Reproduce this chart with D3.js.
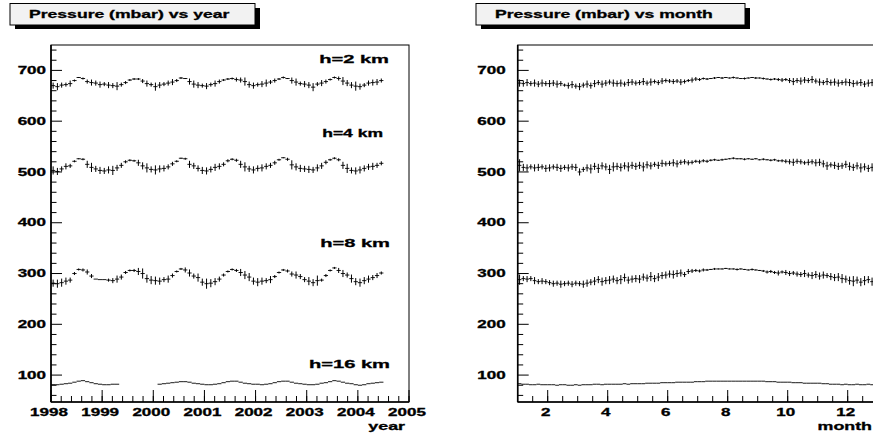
<!DOCTYPE html>
<html>
<head>
<meta charset="utf-8">
<script src="https://cdn.jsdelivr.net/npm/d3@7"></script>
<style>
  body { margin: 0; background: #fff; }
  svg { display: block; }
  text { font-family: "Liberation Sans", Arial, sans-serif; font-weight: bold; fill: #000; stroke: #000; stroke-width: 0.3; }
</style>
</head>
<body>
<div id="chart"></div>
<script>
"use strict";

// ---- data ----
var YEARS = [1998, 1999, 2000, 2001, 2002, 2003, 2004, 2005];
var MONTH_TICKS = [2, 4, 6, 8, 10, 12];
var PRESSURE_TICKS = [100, 200, 300, 400, 500, 600, 700];
var LEVELS = ["h=2 km", "h=4 km", "h=8 km", "h=16 km"];

// monthly means, Jan 1998 .. Jun 2004
var year2km = [670,668,671,672,674,680,686,684,678,676,675,672, 673,671,670,669,672,676,681,683,683,679,674,672,
  668,671,673,675,677,680,685,684,678,673,671,670, 669,672,674,678,681,683,684,682,681,678,672,670,
  672,673,675,677,680,683,686,684,680,677,674,673, 671,667,673,675,678,682,686,684,679,675,671,669,
  668,671,675,676,677,680];
var year2kmErr = [6,7,5,4,6,2,1,2,4,6,5,6, 4,6,5,8,4,3,2,2,2,4,6,4, 8,6,4,5,6,3,2,1,6,7,6,4,
  6,4,6,4,2,2,2,4,5,8,6,6, 4,6,7,4,4,2,2,1,6,7,4,6, 6,8,4,6,4,2,2,4,8,6,6,9, 6,4,5,6,6,4];

var year4km = [503,501,506,511,512,521,526,525,515,509,506,503, 502,504,503,508,513,520,523,522,518,512,508,505,
  504,506,507,510,516,521,527,526,515,512,507,503, 502,505,509,511,515,522,525,523,515,510,506,504,
  507,508,511,513,518,524,528,525,514,510,507,506, 505,504,508,512,519,524,527,524,513,507,503,502,
  504,507,510,511,513,517];
var year4kmErr = [8,7,5,6,4,2,1,2,7,9,6,7, 6,7,9,6,5,3,2,2,6,7,9,6, 9,7,6,5,4,2,1,2,7,6,6,7,
  7,6,7,6,4,3,2,3,7,9,6,7, 6,7,6,5,4,2,1,3,9,7,7,6, 7,6,7,6,4,2,2,3,7,9,6,7, 7,6,6,7,5,4];

var year8km = [281,280,282,285,287,300,308,307,303,295,289,288, 288,287,286,289,293,302,306,306,304,300,290,287,
  286,285,288,289,296,304,309,307,301,295,292,283, 280,281,284,289,297,304,308,306,302,297,293,285,
  283,285,286,288,294,302,307,305,299,297,294,288, 285,282,286,287,296,306,311,306,300,297,290,284,
  282,286,289,292,296,301];
var year8kmErr = [7,8,8,7,5,3,2,3,5,4,0,0, 0,3,5,7,5,3,2,3,7,10,8,8, 8,7,5,7,4,2,2,5,7,5,8,7,
  10,8,7,5,3,2,2,3,7,8,8,7, 8,7,5,7,3,2,2,3,5,7,5,5, 8,7,10,3,3,2,2,5,7,5,8,7, 8,7,7,5,5,3];

var year16km = [81,81,82,83,84,86,88,89,87,85,83,82, 81,81,82,82,null,null,null,null,null,null,null,null,
  null,82,83,84,85,86,87,87,86,84,83,82, 81,81,82,83,85,87,88,88,86,84,83,82,
  82,81,82,83,85,87,88,88,86,84,83,82, 81,81,82,84,85,87,89,88,86,84,83,81,
  80,81,83,84,85,86];

// folded by month, 8 bins per month
var month2km = [675,674,676,674,675,673,675,674, 674,675,673,674,671,670,672,669, 668,671,673,670,674,676,673,675,
  677,675,674,675,673,676,677,675, 676,678,675,677,678,676,679,680, 679,678,679,677,678,680,681,683,
  682,684,683,684,685,686,685,686, 685,686,685,684,684,685,686,685, 685,684,683,682,683,682,681,682,
  680,678,680,679,681,680,682,679, 677,676,678,676,677,675,676,677, 676,674,675,676,673,675,676,674];
var month2kmErr = [7,6,7,5,7,6,7,5, 7,6,7,5,3,6,7,5, 7,5,7,6,7,5,7,6, 5,7,6,7,5,7,6,5, 5,7,5,7,4,5,6,4,
  4,5,4,6,4,3,5,4, 3,2,2,1,2,1,2,1, 1,2,1,1,2,1,1,2, 1,2,1,2,2,3,4,3, 5,7,5,7,6,5,7,5,
  7,5,7,6,7,7,5,7, 7,7,5,7,6,7,7,8];

var month4km = [513,509,508,510,508,509,510,507, 508,510,509,507,509,508,510,509, 500,505,508,506,511,507,512,510,
  505,510,511,509,512,510,513,511, 513,510,514,512,515,513,517,516, 517,518,516,519,520,518,519,521,
  520,522,521,523,524,523,524,525, 526,527,526,526,525,526,525,526, 524,525,524,523,524,522,522,521,
  520,519,521,520,518,519,520,518, 519,516,512,514,513,511,512,515, 511,509,512,508,510,507,509,511];
var month4kmErr = [12,7,7,5,7,7,5,7, 7,5,7,7,5,7,6,7, 7,5,7,9,7,9,7,7, 9,9,7,8,7,9,7,7, 7,9,7,7,5,7,7,5,
  5,7,7,5,5,5,4,3, 4,3,3,2,2,1,2,1, 1,2,1,1,2,1,1,1, 1,2,1,2,2,2,3,4, 5,7,5,5,4,6,5,7,
  7,7,8,5,7,7,6,7, 8,7,7,9,7,7,8,9];

var month8km = [288,290,289,290,286,284,285,284, 282,280,281,279,280,281,279,281, 280,279,281,283,285,288,284,286,
  287,289,286,288,292,287,289,290, 289,293,291,294,290,293,296,297, 299,298,300,301,298,304,305,306,
  305,307,307,308,309,309,309,310, 309,309,308,309,308,307,308,307, 306,305,303,304,302,301,303,302,
  300,301,299,298,300,297,296,298, 295,297,296,294,292,293,290,289, 286,285,287,283,286,288,284,288];
var month8kmErr = [10,5,6,5,7,5,6,5, 5,6,5,7,5,5,6,5, 5,7,7,6,8,7,8,7, 8,7,7,9,8,7,7,7, 8,7,7,9,7,8,7,7,
  7,8,7,7,5,5,4,3, 3,3,2,1,2,1,1,1, 1,1,2,1,1,1,2,1, 1,2,3,3,3,5,3,5, 5,4,5,5,7,5,7,7,
  7,7,5,7,7,8,9,7, 8,10,7,8,9,7,8,7];

var month16km = [83,82,82,81,81,82,81,81, 81,81,80,81,81,80,80,81, 80,81,81,81,82,82,81,82,
  82,82,82,82,83,82,83,83, 83,83,84,84,84,84,85,85, 85,85,86,86,86,86,86,87,
  87,87,88,88,88,88,88,88, 88,88,88,88,88,88,88,88, 88,88,87,87,87,86,86,86,
  86,85,85,85,84,84,84,84, 84,83,83,82,82,82,81,82, 81,81,82,81,81,82,81,81];

// ---- layout ----
var W = 873, H = 439;
var SX = 1.7;   // the reference fonts are stretched sideways

var svg = d3.select("#chart").append("svg")
    .attr("width", W).attr("height", H);

svg.append("rect").attr("width", W).attr("height", H).attr("fill", "#fff");

function label(g, x, y, txt, size, anchor, sx) {
  return g.append("text")
    .attr("transform", "translate(" + x + "," + y + ") scale(" + (sx || SX) + ",1)")
    .attr("font-size", size)
    .attr("text-anchor", anchor || "start")
    .text(txt);
}

function titleBox(x, w, txt) {
  var g = svg.append("g");
  g.append("rect").attr("x", x + 5).attr("y", 8).attr("width", w).attr("height", 21).attr("fill", "#000");
  g.append("rect").attr("x", x).attr("y", 3.5).attr("width", w).attr("height", 21.5)
    .attr("fill", "#f2f2f2").attr("stroke", "#000").attr("stroke-width", 1);
  label(g, x + 19, 17.5, txt, 11, "start", 1.6);
}

// one TGraphErrors-like series: horizontal bar over the bin, vertical bar for the error
function drawSeries(g, x, y, xs, vals, errs, halfBin) {
  var pts = vals.map(function(v, i) { return { t: xs[i], v: v, e: errs ? errs[i] : 0 }; })
    .filter(function(d) { return d.v !== null; });

  g.selectAll(null).data(pts).enter().append("line")
    .attr("x1", function(d) { return x(d.t - halfBin); })
    .attr("x2", function(d) { return x(d.t + halfBin); })
    .attr("y1", function(d) { return y(d.v); })
    .attr("y2", function(d) { return y(d.v); })
    .attr("stroke", "#000").attr("stroke-width", 0.9);

  g.selectAll(null).data(pts.filter(function(d) { return d.e > 0; })).enter().append("line")
    .attr("x1", function(d) { return x(d.t); })
    .attr("x2", function(d) { return x(d.t); })
    .attr("y1", function(d) { return y(d.v - d.e); })
    .attr("y2", function(d) { return y(d.v + d.e); })
    .attr("stroke", "#000").attr("stroke-width", 1);
}

function drawPanel(p) {
  var g = svg.append("g");
  var x = d3.scaleLinear().domain(p.xDomain).range([p.left, p.right]);
  var y = d3.scaleLinear().domain([47, 750]).range([402, 45]);

  // frame
  g.append("rect").attr("x", p.left).attr("y", 45)
    .attr("width", p.right - p.left).attr("height", 357)
    .attr("fill", "none").attr("stroke", "#000").attr("stroke-width", 1);

  // y axis ticks (pointing into the frame)
  g.append("line").attr("x1", p.left).attr("x2", p.left).attr("y1", 45).attr("y2", 402)
    .attr("stroke", "#000").attr("stroke-width", 1.6);
  var yMinor = d3.range(60, 750, 20);
  g.selectAll(null).data(yMinor).enter().append("line")
    .attr("x1", p.left).attr("x2", function(d) { return p.left + (d % 100 === 0 ? 11 : 5.5); })
    .attr("y1", function(d) { return y(d); }).attr("y2", function(d) { return y(d); })
    .attr("stroke", "#000").attr("stroke-width", 1);
  PRESSURE_TICKS.forEach(function(v) {
    label(g, p.left - p.yLabelGap, y(v) + 3.7, String(v), 10, "end");
  });

  // x axis ticks (pointing up)
  g.append("line").attr("x1", p.left).attr("x2", p.right).attr("y1", 402).attr("y2", 402)
    .attr("stroke", "#000").attr("stroke-width", 1.6);
  g.selectAll(null).data(p.minor).enter().append("line")
    .attr("x1", function(d) { return x(d); }).attr("x2", function(d) { return x(d); })
    .attr("y1", 402).attr("y2", 396)
    .attr("stroke", "#000").attr("stroke-width", 1);
  g.selectAll(null).data(p.major).enter().append("line")
    .attr("x1", function(d) { return x(d); }).attr("x2", function(d) { return x(d); })
    .attr("y1", 402).attr("y2", 390)
    .attr("stroke", "#000").attr("stroke-width", 1);
  p.major.forEach(function(v) {
    label(g, x(v) - 2, 416, String(v), 10, "middle");
  });
  label(g, p.axisTitleX, 429.5, p.axisTitle, 10.5, "end");

  p.series.forEach(function(s) {
    drawSeries(g, x, y, p.xs, s.vals, s.errs, p.halfBin);
  });

  return g;
}

var yearX = year2km.map(function(d, i) { return 1998 + (i + 0.5) / 12; });
var monthX = month2km.map(function(d, i) { return 1 + (i + 0.5) / 8; });

titleBox(10, 245, "Pressure (mbar) vs year");
titleBox(476, 269, "Pressure (mbar) vs month");

var left = drawPanel({
  left: 51, right: 409, xDomain: [1998, 2005],
  major: YEARS, minor: d3.range(1998, 2005.01, 0.2),
  yLabelGap: 5, axisTitle: "year", axisTitleX: 405,
  xs: yearX, halfBin: 1 / 24,
  series: [
    { vals: year2km, errs: year2kmErr },
    { vals: year4km, errs: year4kmErr },
    { vals: year8km, errs: year8kmErr },
    { vals: year16km, errs: null }
  ]
});

drawPanel({
  left: 517.7, right: 877.7, xDomain: [1, 13],
  major: MONTH_TICKS, minor: d3.range(1.5, 13.01, 0.5),
  yLabelGap: 12, axisTitle: "month", axisTitleX: 872,
  xs: monthX, halfBin: 1 / 16,
  series: [
    { vals: month2km, errs: month2kmErr },
    { vals: month4km, errs: month4kmErr },
    { vals: month8km, errs: month8kmErr },
    { vals: month16km, errs: null }
  ]
});

// level labels in the year panel
label(left, 389, 62.5, LEVELS[0], 11.5, "end", 1.75);
label(left, 383, 136.5, LEVELS[1], 10, "end", 1.75);
label(left, 390, 246.5, LEVELS[2], 11.5, "end", 1.75);
label(left, 390, 367.5, LEVELS[3], 11.5, "end", 1.75);
</script>
</body>
</html>
